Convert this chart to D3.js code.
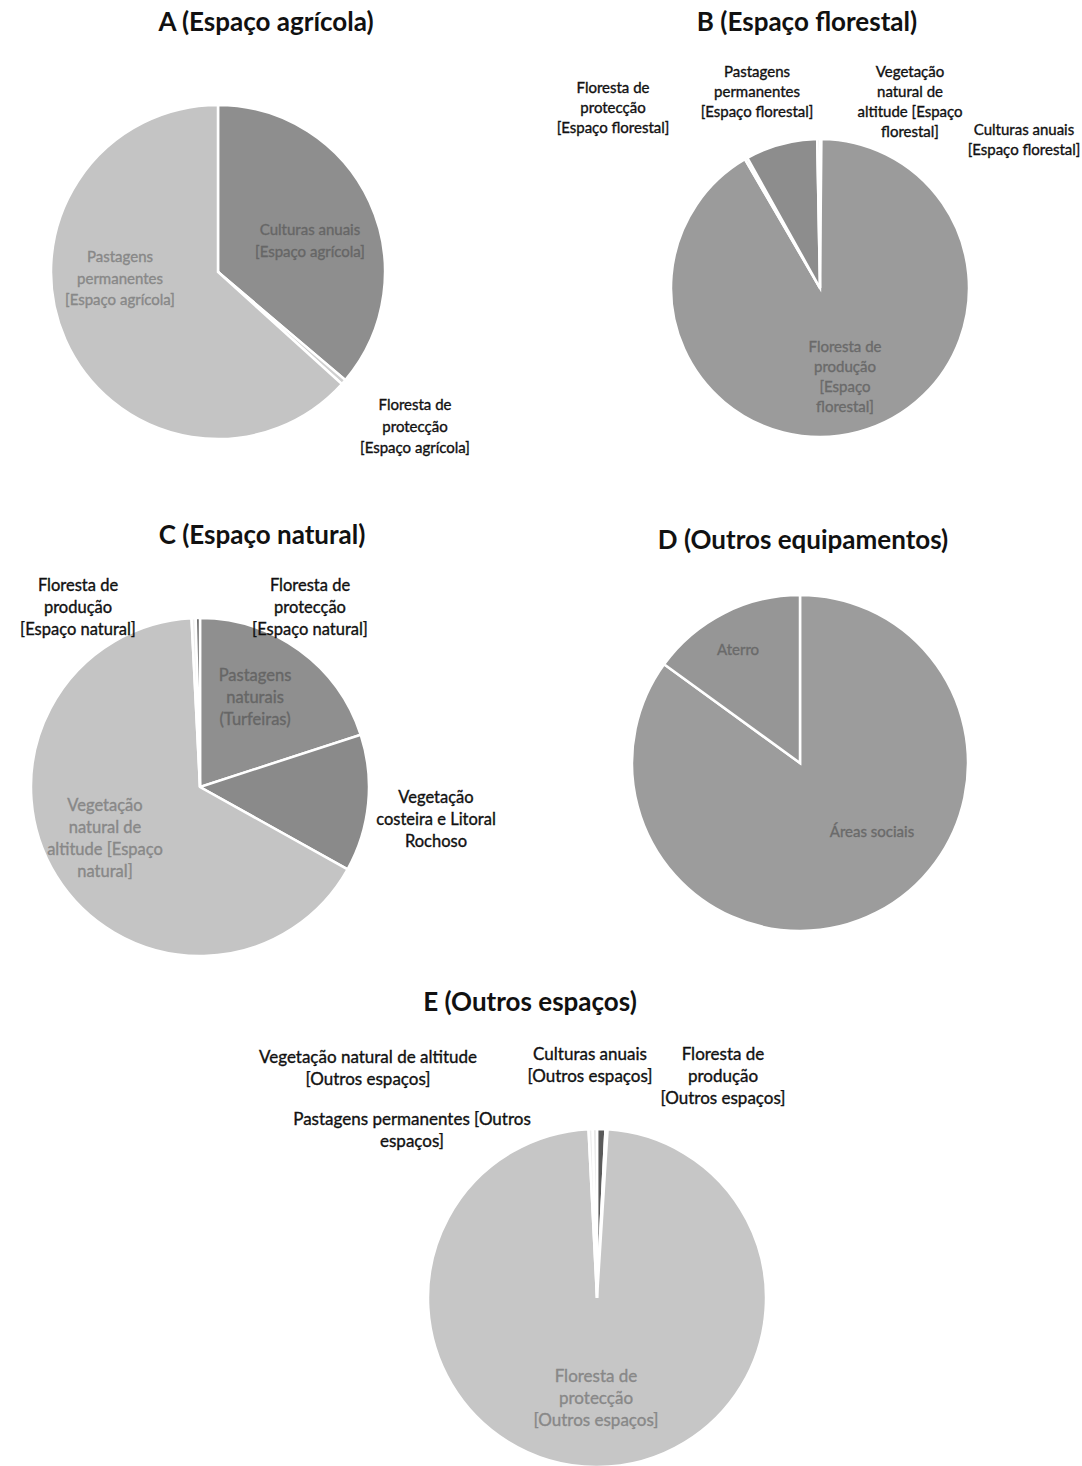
<!DOCTYPE html>
<html>
<head>
<meta charset="utf-8">
<script src="https://cdn.jsdelivr.net/npm/d3@7"></script>
<style>
  html, body { margin: 0; padding: 0; background: #fff; }
  svg { display: block; }
</style>
</head>
<body>
<svg id="chart" width="1082" height="1466"></svg>
<script>
// ---------------- DATA ----------------
const titles = ["A (Espaço agrícola)", "B (Espaço florestal)", "C (Espaço natural)", "D (Outros equipamentos)", "E (Outros espaços)"];

const categoriesA = ["Culturas anuais [Espaço agrícola]", "Floresta de protecção [Espaço agrícola]", "Pastagens permanentes [Espaço agrícola]"];
const valuesA = [36.2, 0.5, 63.3];
const labelLinesA = [["Culturas anuais", "[Espaço agrícola]"], ["Floresta de", "protecção", "[Espaço agrícola]"], ["Pastagens", "permanentes", "[Espaço agrícola]"]];

const categoriesB = ["Culturas anuais [Espaço florestal]", "Floresta de produção [Espaço florestal]", "Floresta de protecção [Espaço florestal]", "Pastagens permanentes [Espaço florestal]", "Vegetação natural de altitude [Espaço florestal]"];
const valuesB = [0.15, 91.45, 0.3, 7.8, 0.3];
const labelLinesB = [["Culturas anuais", "[Espaço florestal]"], ["Floresta de", "produção", "[Espaço", "florestal]"], ["Floresta de", "protecção", "[Espaço florestal]"], ["Pastagens", "permanentes", "[Espaço florestal]"], ["Vegetação", "natural de", "altitude [Espaço", "florestal]"]];

const categoriesC = ["Pastagens naturais (Turfeiras)", "Vegetação costeira e Litoral Rochoso", "Vegetação natural de altitude [Espaço natural]", "Floresta de produção [Espaço natural]", "Floresta de protecção [Espaço natural]"];
const valuesC = [20, 13.1, 66.1, 0.4, 0.4];
const labelLinesC = [["Pastagens", "naturais", "(Turfeiras)"], ["Vegetação", "costeira e Litoral", "Rochoso"], ["Vegetação", "natural de", "altitude [Espaço", "natural]"], ["Floresta de", "produção", "[Espaço natural]"], ["Floresta de", "protecção", "[Espaço natural]"]];

const categoriesD = ["Áreas sociais", "Aterro"];
const valuesD = [85, 15];
const labelLinesD = [["Áreas sociais"], ["Aterro"]];

const categoriesE = ["Culturas anuais [Outros espaços]", "Floresta de produção [Outros espaços]", "Floresta de protecção [Outros espaços]", "Pastagens permanentes [Outros espaços]", "Vegetação natural de altitude [Outros espaços]"];
const valuesE = [0.8, 0.2, 98.2, 0.4, 0.4];
const labelLinesE = [["Culturas anuais", "[Outros espaços]"], ["Floresta de", "produção", "[Outros espaços]"], ["Floresta de", "protecção", "[Outros espaços]"], ["Pastagens permanentes [Outros", "espaços]"], ["Vegetação natural de altitude", "[Outros espaços]"]];

// ---------------- STYLE / LAYOUT ----------------
const colorsA = ["#8e8e8e", "#d0d0d0", "#c4c4c4"];
const colorsB = ["#909090", "#9b9b9b", "#d8d8d8", "#8d8d8d", "#dddddd"];
const colorsC = ["#8f8f8f", "#8a8a8a", "#c4c4c4", "#eeeeee", "#666666"];
const colorsD = ["#9c9c9c", "#969696"];
const colorsE = ["#5a5a5a", "#e0e0e0", "#c6c6c6", "#eeeeee", "#e6e6e6"];

const labelColorA = ["#666", "#111", "#888"];
const labelColorB = ["#111", "#6a6a6a", "#111", "#111", "#111"];
const labelColorC = ["#666", "#111", "#888", "#111", "#111"];
const labelColorD = ["#6a6a6a", "#6a6a6a"];
const labelColorE = ["#111", "#111", "#888", "#111", "#111"];

// label offsets (first line centre) from pie centre
const labelPosA = [[92, -42], [197, 133], [-98, -15]];
const labelPosB = [[204, -158], [25, 59], [-207, -200], [-63, -216], [90, -216]];
const labelPosC = [[55, -111], [236, 11], [-95, 19], [-122, -201], [110, -201]];
const labelPosD = [[72, 69], [-62, -113]];
const labelPosE = [[-7, -243], [126, -243], [-1, 79], [-185, -178], [-229, -240]];

const panels = [
  { title: titles[0], cats: categoriesA, vals: valuesA, lines: labelLinesA, colors: colorsA, lcol: labelColorA, lpos: labelPosA, fs: 15, lh: 21.5, cx: 218, cy: 272, r: 167, tx: 266, ty: 31 },
  { title: titles[1], cats: categoriesB, vals: valuesB, lines: labelLinesB, colors: colorsB, lcol: labelColorB, lpos: labelPosB, fs: 15, lh: 20, cx: 820, cy: 288, r: 149, tx: 807, ty: 31 },
  { title: titles[2], cats: categoriesC, vals: valuesC, lines: labelLinesC, colors: colorsC, lcol: labelColorC, lpos: labelPosC, fs: 16.5, lh: 22, cx: 200, cy: 787, r: 169, tx: 262, ty: 544 },
  { title: titles[3], cats: categoriesD, vals: valuesD, lines: labelLinesD, colors: colorsD, lcol: labelColorD, lpos: labelPosD, fs: 15, lh: 21, cx: 800, cy: 763, r: 168, tx: 803, ty: 549 },
  { title: titles[4], cats: categoriesE, vals: valuesE, lines: labelLinesE, colors: colorsE, lcol: labelColorE, lpos: labelPosE, fs: 17, lh: 22, cx: 597, cy: 1298, r: 169, tx: 530, ty: 1011 }
];

const svg = d3.select("#chart");
const FONT = "Lato, Carlito, 'Open Sans', sans-serif";

panels.forEach(p => {
  const g = svg.append("g").attr("transform", `translate(${p.cx},${p.cy})`);
  const pie = d3.pie().sort(null).value(d => d)(p.vals);
  const arc = d3.arc().innerRadius(0).outerRadius(p.r);
  const color = d3.scaleOrdinal().domain(p.cats).range(p.colors);

  g.selectAll("path.slice")
    .data(pie)
    .join("path")
    .attr("class", "slice")
    .attr("d", arc)
    .attr("fill", (d, i) => color(p.cats[i]))
    .attr("stroke", "#fff")
    .attr("stroke-width", 2.5)
    .attr("stroke-linejoin", "miter");

  const lab = g.selectAll("text.lbl")
    .data(pie)
    .join("text")
    .attr("class", "lbl")
    .attr("text-anchor", "middle")
    .attr("font-family", FONT)
    .attr("font-size", p.fs)
    .attr("fill", (d, i) => p.lcol[i])
    .attr("stroke", (d, i) => p.lcol[i])
    .attr("stroke-width", 0.35)
    .attr("transform", (d, i) => `translate(${p.lpos[i][0]},${p.lpos[i][1] + 5})`);

  lab.each(function(d, i) {
    d3.select(this).selectAll("tspan")
      .data(p.lines[i])
      .join("tspan")
      .attr("x", 0)
      .attr("y", (t, j) => j * p.lh)
      .text(t => t);
  });

  svg.append("text")
    .attr("x", p.tx)
    .attr("y", p.ty)
    .attr("text-anchor", "middle")
    .attr("font-family", FONT)
    .attr("font-weight", "bold")
    .attr("font-size", 26)
    .attr("fill", "#111")
    .text(p.title);
});
</script>
</body>
</html>
